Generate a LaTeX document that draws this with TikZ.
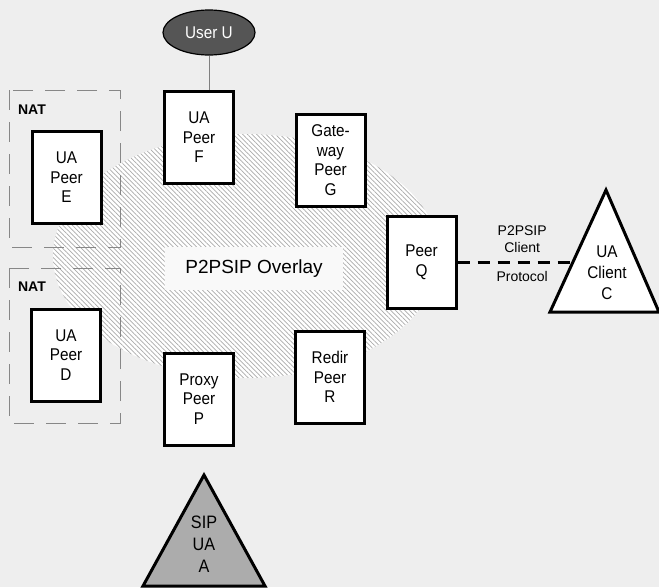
\documentclass[tikz,border=0pt]{standalone}
\usepackage{fontspec}
\setmainfont{Liberation Sans}
\newfontfamily\narrowsans{Liberation Sans}[FakeStretch=0.9]
\usepackage{xcolor}
\definecolor{bggray}{RGB}{238,238,238}
\definecolor{usergray}{RGB}{85,85,85}
\definecolor{sipgray}{RGB}{172,172,172}
\definecolor{natgray}{RGB}{135,135,135}
\definecolor{hatchgray}{RGB}{170,170,170}
\definecolor{labelwhite}{RGB}{249,249,249}
\usepackage{tikz}
\usetikzlibrary{shapes.geometric,patterns.meta}

\tikzset{
  peerbox/.style={draw,line width=3pt,fill=white,minimum width=69pt,minimum height=92pt,
        inner sep=0pt,align=center,font=\narrowsans\fontsize{17}{19.5}\selectfont},
  userbox/.style={ellipse,draw,line width=1.2pt,fill=usergray,text=white,minimum width=92pt,
        minimum height=45pt,inner sep=0pt,font=\narrowsans\fontsize{17}{19.5}\selectfont},
  natbox/.style={draw=natgray,line width=1pt,dash pattern=on 20pt off 12pt},
  natlabel/.style={inner sep=0pt,font=\bfseries\fontsize{14}{16}\selectfont},
  trishape/.style={draw,line width=3pt,line join=miter},
  tritext/.style={inner sep=0pt,align=center,font=\narrowsans\fontsize{17}{21}\selectfont},
  linklabel/.style={inner sep=2pt,align=center,font=\fontsize{14}{17}\selectfont}
}

\begin{document}
\begin{tikzpicture}[x=1pt,y=-1pt]
  % page and background
  \useasboundingbox[fill=bggray] (0,0) rectangle (659,587);

  % overlay ring
  \fill[white] (246,256) ellipse [x radius=193, y radius=122];
  \fill[pattern={Lines[angle=-45,distance=3.3pt,line width=0.7pt]},pattern color=hatchgray]
    (246,256) ellipse [x radius=193, y radius=122];
  \node[fill=labelwhite,minimum width=178pt,minimum height=43pt,inner sep=0pt,
        font=\fontsize{19}{21}\selectfont] (overlay) at (254,268.5) {P2PSIP Overlay};

  % NAT areas
  \draw[natbox] (9,90) rectangle (120,247);
  \node[natlabel] (natE) at (32,110) {NAT};
  \draw[natbox] (9,268) rectangle (120,423);
  \node[natlabel] (natD) at (32,287) {NAT};

  % peers
  \node[peerbox] (peerF) at (199,137.5) {UA\\Peer\\F};
  \node[peerbox] (peerE) at (66.5,177.5) {UA\\Peer\\E};
  \node[peerbox] (peerD) at (66,355) {UA\\Peer\\D};
  \node[peerbox] (peerG) at (330.5,160) {Gate-\\way\\Peer\\G};
  \node[peerbox] (peerQ) at (421.5,262.5) {Peer\\Q};
  \node[peerbox] (peerP) at (199,399) {Proxy\\Peer\\P};
  \node[peerbox] (peerR) at (330,377) {Redir\\Peer\\R};

  % user
  \node[userbox] (userU) at (209,32.5) {User U};
  \draw[gray,line width=0.8pt] (userU.south) -- (userU.south |- peerF.north);

  % UA client
  \draw[trishape,fill=white] (606,190) -- (659,312) -- (550,312) -- cycle;
  \node[tritext] (clientC) at (607,272.5) {UA\\Client\\C};
  \coordinate (clientedge) at (573,262.5);
  \draw[line width=3.5pt,dash pattern=on 12pt off 8pt] (peerQ.east) -- (clientedge)
    node[linklabel,pos=0.56,above=6pt] (protoA) {P2PSIP\\Client}
    node[linklabel,pos=0.56,below=5pt] (protoB) {Protocol};

  % SIP UA
  \draw[trishape,fill=sipgray] (204,475) -- (265,586) -- (143,586) -- cycle;
  \node[tritext,font=\narrowsans\fontsize{18}{22}\selectfont] (sipA) at (204,544) {SIP\\UA\\A};
\end{tikzpicture}
\end{document}
